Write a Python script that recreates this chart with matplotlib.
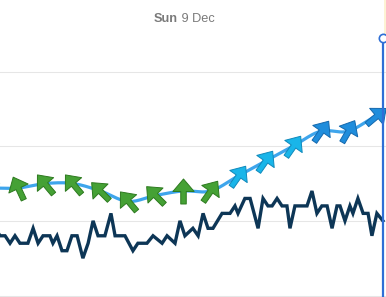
import numpy as np
import matplotlib
matplotlib.use("Agg")
import matplotlib.pyplot as plt
from matplotlib.path import Path
from matplotlib.markers import MarkerStyle
from matplotlib.transforms import Affine2D
from matplotlib.patches import Rectangle

# ---------------- data ----------------
title_day = "Sun"
title_date = " 9 Dec"

# dark series (hours, value)
dark_hours = [5.16, 5.35, 5.53, 5.71, 5.89, 6.07, 6.36, 6.55, 6.73, 6.91, 7.16, 7.27,
              7.42, 7.60, 7.78, 7.96, 8.15, 8.36, 8.55, 8.73, 8.91, 9.16, 9.38, 9.53,
              9.89, 10.18, 10.36, 10.69, 10.91, 11.24, 11.42, 11.71, 11.89, 12.07,
              12.36, 12.55, 12.73, 12.91, 13.09, 13.42, 13.71, 13.89, 14.00, 14.25,
              14.44, 14.73, 14.91, 15.09, 15.24, 15.42, 15.60, 15.78, 15.89, 16.07,
              16.51, 16.69, 16.87, 17.05, 17.24, 17.42, 17.60, 17.71, 17.89, 18.07,
              18.18, 18.36, 18.55, 18.73, 18.87, 19.05, 19.27]
dark_values = [4.5, 4.0, 4.0, 3.5, 4.0, 3.5, 3.5, 4.5, 3.5, 4.0, 4.0, 3.5,
               4.0, 3.0, 3.0, 4.0, 4.0, 2.5, 3.5, 5.0, 4.0, 4.0, 5.5, 4.0,
               4.0, 3.0, 3.5, 3.5, 4.0, 3.5, 4.0, 3.5, 5.0, 4.0,
               4.5, 4.0, 5.5, 4.5, 4.5, 5.5, 5.5, 6.0, 5.5, 6.5,
               6.5, 4.5, 6.5, 6.0, 6.0, 6.5, 6.0, 6.0, 4.5, 6.0,
               6.0, 7.0, 5.5, 6.0, 6.0, 4.5, 6.0, 6.0, 5.0, 6.0,
               5.5, 6.5, 5.5, 5.5, 4.0, 5.5, 5.0]

# blue series with direction arrows
blue_hours = [5, 6, 7, 8, 9, 10, 11, 12, 13, 14, 15, 16, 17, 18, 19, 20]
blue_values = [7.2, 7.2, 7.5, 7.5, 7.0, 6.3, 6.7, 7.0, 7.0, 8.0, 9.0, 10.0, 11.0, 11.0, 12.0, 12.8]
blue_dirs = [-30, -25, -40, -40, -45, -40, -45, 0, 35, 35, 35, 35, 35, 30, 50, 45]
blue_class = [0, 0, 0, 0, 0, 0, 0, 0, 0, 1, 1, 1, 2, 2, 2, 2]

now_hour = 19.29
grid_values = [0, 5, 10, 15]

# ---------------- style ----------------
class_face = ["#45a135", "#19b5e9", "#1f8ddc"]
class_edge = ["#2d7a1f", "#1089bb", "#1468ad"]
dark_color = "#0d3656"
line_color = "#3ea5ec"
now_color = "#2f6fd6"

W, H = 386, 297
fig = plt.figure(figsize=(W / 100, H / 100), dpi=100)
ax = fig.add_axes([0, 0, 1, 1])
ax.set_xlim(5.3455, 19.3818)
ax.set_ylim(-0.1, 19.79)
ax.axis("off")

for g in grid_values:
    ax.axhline(g, color="#e6e6e6", lw=0.75, zorder=1)

# plot band near the "now" marker
ax.add_patch(Rectangle((now_hour + 0.02, 17.5), 0.5, 3, color="#fdf3d4", lw=0, zorder=0))

# dark line
ax.plot(dark_hours, dark_values, color=dark_color, lw=2.4, zorder=3,
        solid_joinstyle="miter")


# smooth blue line (Catmull-Rom through the data points)
def catmull(xs, ys, n=20):
    xs = np.asarray(xs, float)
    ys = np.asarray(ys, float)
    px = np.concatenate([[2 * xs[0] - xs[1]], xs, [2 * xs[-1] - xs[-2]]])
    py = np.concatenate([[2 * ys[0] - ys[1]], ys, [2 * ys[-1] - ys[-2]]])
    ox, oy = [], []
    t = np.linspace(0, 1, n, endpoint=False)
    for i in range(1, len(px) - 2):
        for arr, out in ((px, ox), (py, oy)):
            p0, p1, p2, p3 = arr[i - 1], arr[i], arr[i + 1], arr[i + 2]
            out.extend(0.5 * ((2 * p1) + (-p0 + p2) * t +
                              (2 * p0 - 5 * p1 + 4 * p2 - p3) * t ** 2 +
                              (-p0 + 3 * p1 - 3 * p2 + p3) * t ** 3))
    ox.append(xs[-1])
    oy.append(ys[-1])
    return ox, oy


sx, sy = catmull(blue_hours, blue_values)
ax.plot(sx, sy, color=line_color, lw=2.3, zorder=4, solid_capstyle="round")

# arrow marker
arrow_verts = [(0, 1.0), (0.85, 0.0), (0.22, 0.0), (0.22, -1.0), (-0.22, -1.0),
               (-0.22, 0.0), (-0.85, 0.0), (0, 1.0)]
arrow_codes = [Path.MOVETO] + [Path.LINETO] * 6 + [Path.CLOSEPOLY]
arrow_path = Path(arrow_verts, arrow_codes)

for h, v, d, c in zip(blue_hours, blue_values, blue_dirs, blue_class):
    m = MarkerStyle(arrow_path, transform=Affine2D().rotate_deg(-d))
    ax.plot([h], [v], marker=m, ms=18, mfc=class_face[c], mec=class_edge[c],
            mew=0.7, ls="none", zorder=5)

# now marker
ax.plot([now_hour, now_hour], [-0.1, 17.24], color=now_color, lw=1.6, zorder=6)
ax.plot([now_hour], [17.24], marker="o", ms=6, mfc="white", mec=now_color,
        mew=1.2, zorder=7)

# title
t1 = ax.text(0.399, 0.915, title_day, transform=ax.transAxes, ha="left", va="bottom",
             fontsize=9.2, fontweight="bold", color="#7a7a7a", family="Liberation Sans")
ax.annotate(title_date, xy=(1, 0), xycoords=t1, ha="left", va="bottom",
            fontsize=9.2, color="#7a7a7a", family="Liberation Sans")

fig.savefig("out.png", dpi=100)
